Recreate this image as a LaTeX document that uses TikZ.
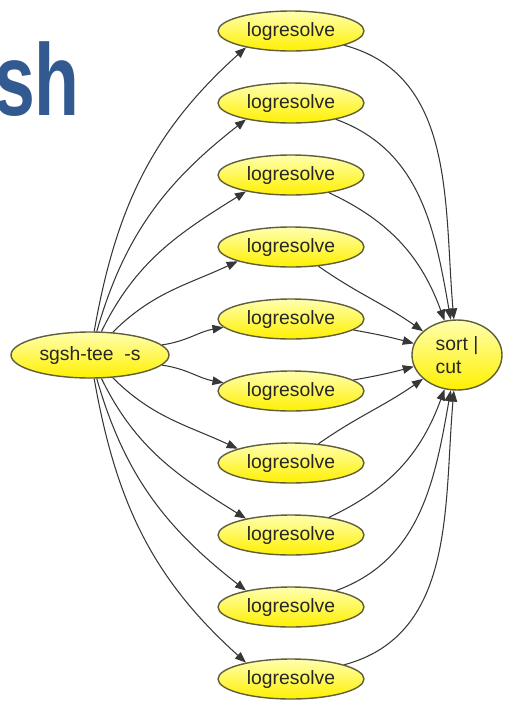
\documentclass[tikz,border=0pt]{standalone}
\usepackage{fontspec}
\usepackage{graphicx}
\setmainfont{Liberation Sans}
\usetikzlibrary{arrows.meta,shapes.geometric}
\definecolor{nodeyellow}{RGB}{255,240,0}
\definecolor{paleyellow}{RGB}{255,255,175}
\definecolor{nodeedge}{RGB}{95,95,60}
\definecolor{titleblue}{RGB}{50,90,145}
\definecolor{edgegray}{RGB}{55,55,55}
\tikzset{
  proc/.style={ellipse, draw=nodeedge, thick, top color=paleyellow, bottom color=nodeyellow,
               inner sep=0pt, font=\fontsize{11}{13}\selectfont, text=black!85},
  lrnode/.style={proc, minimum width=2.92cm, minimum height=0.8cm},
  pipe/.style={-{Triangle[length=2.2mm,width=1.7mm]}, edgegray, semithick},
}

\begin{document}
\begin{tikzpicture}[x=0.02cm, y=-0.02cm]
\useasboundingbox (0,0) rectangle (507,704);
\node[anchor=base east, inner sep=0pt, text=titleblue, font=\fontsize{58}{58}\selectfont\bfseries] (title) at (80,115) {\scalebox{0.72}[1]{sh}};

\node[proc, minimum width=3.16cm, minimum height=0.92cm] (tee) at (90,355) {sgsh-tee\ \ -s};
\node[proc, minimum width=1.8cm, minimum height=1.4cm, align=left] (sort) at (457,355) {sort |\\cut};
\foreach \i [evaluate=\i as \y using 72*\i-41] in {1,...,10}
  \node[lrnode] (lr\i) at (291,\y) {logresolve};

% fan out: out angle, in angle, end anchor
\foreach \i/\a/\b/\e in {1/80/222/200, 2/74/218/200, 3/64/212/200, 4/45/205/195, 5/8/190/187,
                         6/-8/170/173, 7/-45/155/165, 8/-64/148/160, 9/-74/142/160, 10/-80/138/160}
  \draw[pipe] (tee) to[out=\a,in=\b] (lr\i.\e);

% fan in
\foreach \i/\a/\b in {1/-15/95, 2/-20/100, 3/-25/110, 4/-35/145, 5/-10/165,
                      6/10/195, 7/35/215, 8/25/250, 9/20/260, 10/15/265}
  \draw[pipe] (lr\i) to[out=\a,in=\b] (sort);
\end{tikzpicture}
\end{document}
